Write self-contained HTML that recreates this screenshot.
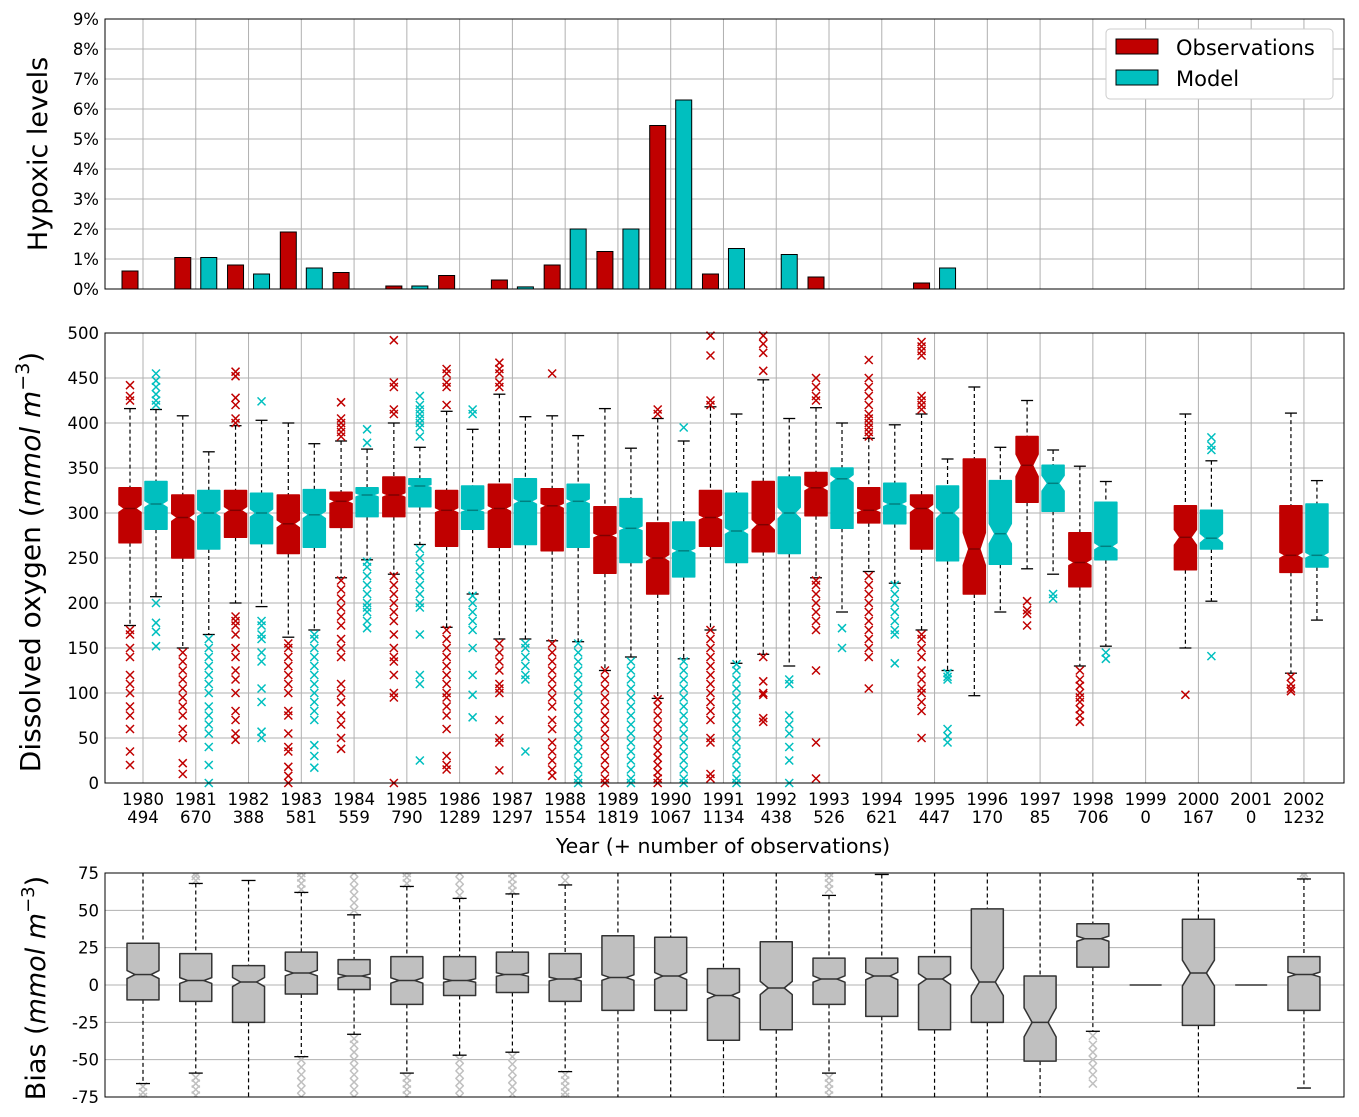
<!DOCTYPE html>
<html><head><meta charset="utf-8"><style>
body{margin:0;background:#fff}
svg{display:block;font-family:"DejaVu Sans","Liberation Sans",sans-serif}
</style></head><body>
<svg id="c" width="1359" height="1117" xmlns="http://www.w3.org/2000/svg"></svg>
<script>
const years=["1980","1981","1982","1983","1984","1985","1986","1987","1988","1989","1990","1991","1992","1993","1994","1995","1996","1997","1998","1999","2000","2001","2002"];
const counts=[494,670,388,581,559,790,1289,1297,1554,1819,1067,1134,438,526,621,447,170,85,706,0,167,0,1232];
const hypObs=[0.6,1.05,0.8,1.9,0.55,0.1,0.45,0.3,0.8,1.25,5.45,0.5,0,0.4,0,0.2,0,0,0,0,0,0,0];
const hypMod=[0,1.05,0.5,0.7,0,0.1,0,0.07,2.0,2.0,6.3,1.35,1.15,0,0,0.7,0,0,0,0,0,0,0];
// [whislo,q1,med,q3,whishi]
const obsBox=[[175,267,305,328,416],[150,250,295,320,408],[200,273,303,325,397],[162,255,288,320,400],[228,284,313,323,380],[232,296,320,340,400],[173,263,303,325,413],[160,262,305,332,432],[158,258,308,327,408],[125,233,275,307,416],[94,210,250,289,405],[170,263,295,325,418],[143,257,287,335,448],[228,297,328,345,417],[235,289,303,328,383],[170,260,305,320,410],[97,210,260,360,440],[238,312,353,385,425],[130,218,245,278,352],null,[150,237,273,308,410],null,[122,234,253,308,411]];
const modBox=[[207,282,310,335,415],[165,260,300,325,368],[196,266,300,322,403],[170,262,298,326,377],[248,296,320,328,371],[265,307,330,338,373],[210,282,303,330,393],[160,265,313,338,407],[157,262,313,332,386],[140,245,283,316,372],[138,229,258,290,380],[133,245,280,322,410],[130,255,300,340,405],[190,283,338,350,400],[222,288,310,333,398],[125,247,300,330,360],[190,243,277,336,373],[232,302,333,353,370],[152,248,263,312,335],null,[202,260,272,303,358],null,[181,240,253,310,336]];
const obsOut=[[20,35,60,75,85,100,110,120,140,150,165,170,425,430,442],[10,22,50,60,75,85,95,105,115,125,135,145],[48,55,70,80,100,115,125,140,150,165,175,180,185,400,405,420,428,452,457],[0,8,18,35,40,55,75,80,100,110,120,130,140,150,155],[38,50,65,75,90,100,110,140,150,160,175,185,195,205,215,225,385,390,395,400,405,423],[0,95,100,120,135,140,150,165,180,190,200,210,220,230,410,415,440,445,492],[15,20,30,60,75,85,95,100,110,120,130,140,150,160,170,420,440,445,455,460],[14,45,50,70,100,105,110,125,135,145,155,440,445,455,460,467],[8,15,25,35,45,60,70,85,95,105,115,125,135,145,155,455],[0,5,15,25,35,45,55,65,75,85,95,105,115,125],[0,5,12,20,28,36,45,55,65,75,85,93,410,415],[5,10,45,50,70,80,90,100,110,120,130,140,150,160,170,420,425,475,497],[68,72,98,100,113,140,458,478,488,497],[5,45,125,170,180,190,200,210,220,225,425,430,440,450],[105,140,150,160,170,180,190,200,210,220,230,385,390,395,400,405,410,420,430,440,450,470],[50,80,90,100,105,115,125,140,150,160,165,415,420,425,430,475,480,485,490],[],[175,188,192,202],[68,75,82,90,95,100,108,115,125],[],[98],[],[102,105,110,118]];
const modOut=[[152,168,178,200,420,425,432,440,447,455],[0,20,40,55,65,75,85,100,110,120,130,140,150,160],[50,57,90,105,135,145,160,165,175,180,424],[17,30,42,70,80,90,100,110,120,130,140,150,160,165],[172,180,190,195,200,210,220,230,240,246,378,393],[25,110,120,165,195,200,210,220,230,240,250,260,385,395,400,405,410,415,420,430],[73,98,120,150,170,180,190,200,208,410,415],[35,115,120,130,140,150,155],[0,5,15,25,35,45,55,65,75,85,95,105,115,125,135,145,155],[0,5,15,25,35,45,55,65,75,85,95,105,115,125,135],[0,5,15,25,35,45,55,65,75,85,95,105,115,125,135,395],[0,5,15,25,35,45,55,65,75,85,95,105,115,125,132],[0,25,40,55,65,75,110,115],[150,172],[133,165,170,180,190,200,210,220],[45,52,60,115,118,122],[],[205,210],[138,145],[],[141,370,375,384],[],[]];
// bias [whislo,q1,med,q3,whishi]
const biasBox=[[-66,-10,7,28,80],[-59,-11,3,21,68],[-80,-25,2,13,70],[-48,-6,8,22,62],[-33,-3,6,17,47],[-59,-13,3,19,66],[-47,-7,3,19,58],[-45,-5,7,22,61],[-58,-11,4,21,67],[-80,-17,5,33,80],[-80,-17,6,32,80],[-80,-37,-7,11,80],[-80,-30,-2,29,80],[-59,-13,4,18,60],[-80,-21,6,18,74],[-80,-30,4,19,80],[-80,-25,2,51,80],[-80,-51,-25,6,80],[-31,12,31,41,80],[0,0,0,0,0],[-80,-27,8,44,80],[0,0,0,0,0],[-69,-17,7,19,71]];
const biasOut=[[-68,-72,-75],[70,73,75,-62,-66,-70,-74],[],[64,68,72,75,-50,-55,-60,-65,-70,-75],[50,55,60,65,70,75,-36,-40,-45,-50,-55,-60,-65,-70,-75],[68,72,75,-62,-66,-70,-74],[60,65,70,75,-50,-55,-60,-65,-70,-75],[63,67,71,75,-48,-53,-58,-63,-68,-73],[70,75,-60,-64,-68,-72,-75],[],[],[],[],[64,68,72,75,-62,-66,-70,-74],[],[],[],[],[-34,-40,-45,-50,-55,-60,-66],[],[],[],[73,75]];

const S=document.getElementById('c');const NS='http://www.w3.org/2000/svg';
function el(t,a,p){const e=document.createElementNS(NS,t);for(const k in a)e.setAttribute(k,a[k]);(p||S).appendChild(e);return e;}
const X0=105,X1=1344;
const xc=i=>143+i*52.77;
const RED='#c00000',CY='#00bfbf';
const TF=16.5;
// ---- top panel ----
const yT=v=>289-v*30;
const gT=el('g',{});
for(let v=0;v<=9;v++){el('line',{x1:X0,x2:X1,y1:yT(v),y2:yT(v),stroke:'#b0b0b0','stroke-width':1},gT);
 const t=el('text',{x:99,y:yT(v)+6,'text-anchor':'end','font-size':TF},gT);t.textContent=v+'%';}
years.forEach((y,i)=>el('line',{x1:xc(i),x2:xc(i),y1:19,y2:289,stroke:'#b0b0b0'},gT));
hypObs.forEach((v,i)=>{if(v<=0)return;const r=el('rect',{x:xc(i)-21,y:yT(v),width:16,height:v*30,fill:RED,stroke:'#000'},gT);});
hypMod.forEach((v,i)=>{if(v<=0)return;const r=el('rect',{x:xc(i)+5,y:yT(v),width:16,height:v*30,fill:CY,stroke:'#000'},gT);});
el('line',{x1:X0,x2:X1,y1:289,y2:289,stroke:'#000','stroke-width':1},gT);
el('rect',{x:X0,y:19,width:X1-X0,height:270,fill:'none',stroke:'#000'},gT);
let t=el('text',{x:0,y:0,'font-size':27,transform:'translate(47,154) rotate(-90)','text-anchor':'middle'});t.textContent='Hypoxic levels';
const lg=el('g',{});
el('rect',{x:1106,y:29,width:227,height:70,rx:4,fill:'#fff',stroke:'#ccc'},lg);
el('rect',{x:1116,y:39,width:42,height:15,fill:RED,stroke:'#000'},lg);
el('rect',{x:1116,y:70,width:42,height:15,fill:CY,stroke:'#000'},lg);
t=el('text',{x:1176,y:55,'font-size':21},lg);t.textContent='Observations';
t=el('text',{x:1176,y:86,'font-size':21},lg);t.textContent='Model';

// ---- box helper ----
function box(g,cx,w,b,n,yf,fill,stroke,medc,cap){
 const [lo,q1,md,q3,hi]=b;
 const nh=n>0?1.57*(q3-q1)/Math.sqrt(n):0;
 const nl=md-nh,nu=md+nh;
 el('line',{x1:cx,x2:cx,y1:yf(hi),y2:yf(q3),stroke:'#000','stroke-dasharray':'4,3','stroke-width':1.2},g);
 el('line',{x1:cx,x2:cx,y1:yf(q1),y2:yf(lo),stroke:'#000','stroke-dasharray':'4,3','stroke-width':1.2},g);
 el('line',{x1:cx-cap,x2:cx+cap,y1:yf(hi),y2:yf(hi),stroke:'#000','stroke-width':1.3},g);
 el('line',{x1:cx-cap,x2:cx+cap,y1:yf(lo),y2:yf(lo),stroke:'#000','stroke-width':1.3},g);
 const h=w/2,q=w/4;
 const p=[[cx-h,yf(q1)],[cx+h,yf(q1)],[cx+h,yf(nl)],[cx+q,yf(md)],[cx+h,yf(nu)],[cx+h,yf(q3)],[cx-h,yf(q3)],[cx-h,yf(nu)],[cx-q,yf(md)],[cx-h,yf(nl)]];
 el('polygon',{points:p.map(a=>a.join(',')).join(' '),fill:fill,stroke:stroke,'stroke-width':1.5,'stroke-linejoin':'round'},g);
 el('line',{x1:cx-q,x2:cx+q,y1:yf(md),y2:yf(md),stroke:medc,'stroke-width':1.5},g);
}
function xm(g,cx,cy,c){el('path',{d:`M${cx-4},${cy-4}L${cx+4},${cy+4}M${cx-4},${cy+4}L${cx+4},${cy-4}`,stroke:c,'stroke-width':1.5},g);}

// ---- middle panel ----
const yM=v=>783-v*0.9;
const gM=el('g',{});
for(let v=0;v<=500;v+=50){el('line',{x1:X0,x2:X1,y1:yM(v),y2:yM(v),stroke:'#b0b0b0'},gM);
 t=el('text',{x:99,y:yM(v)+6,'text-anchor':'end','font-size':TF},gM);t.textContent=v;}
years.forEach((y,i)=>{el('line',{x1:xc(i),x2:xc(i),y1:333,y2:783,stroke:'#b0b0b0'},gM);
 let a=el('text',{x:xc(i),y:805,'text-anchor':'middle','font-size':TF},gM);a.textContent=y;
 a=el('text',{x:xc(i),y:823,'text-anchor':'middle','font-size':TF},gM);a.textContent=counts[i];});
years.forEach((y,i)=>{
 const g=el('g',{},gM);
 if(obsBox[i])box(g,xc(i)-13,22,obsBox[i],counts[i],yM,RED,RED,'#800000',6);
 if(modBox[i])box(g,xc(i)+13,22,modBox[i],counts[i],yM,CY,CY,'#008080',6);
 obsOut[i].forEach(v=>xm(g,xc(i)-13,yM(v),RED));
 modOut[i].forEach(v=>xm(g,xc(i)+13,yM(v),CY));
});
el('rect',{x:X0,y:333,width:X1-X0,height:450,fill:'none',stroke:'#000'},gM);
t=el('text',{x:723,y:853,'text-anchor':'middle','font-size':20.5});t.textContent='Year (+ number of observations)';
t=el('text',{x:0,y:0,'font-size':28,transform:'translate(40,562) rotate(-90)','text-anchor':'middle'});t.innerHTML='Dissolved oxygen (<tspan font-style="italic">mmol m</tspan><tspan font-size="19" dy="-11">−3</tspan><tspan dy="11">)</tspan>';

// ---- bias panel ----
const yB=v=>985-v*1.4933;
const gB=el('g',{});
const clip=el('clipPath',{id:'cb'});el('rect',{x:X0,y:873,width:X1-X0,height:224},clip);
for(let v=-75;v<=75;v+=25){el('line',{x1:X0,x2:X1,y1:yB(v),y2:yB(v),stroke:'#b0b0b0'},gB);
 t=el('text',{x:99,y:yB(v)+6,'text-anchor':'end','font-size':TF},gB);t.textContent=v;}
const gBc=el('g',{'clip-path':'url(#cb)'},gB);
years.forEach((y,i)=>{
 const g=el('g',{},gBc);
 biasOut[i].forEach(v=>xm(g,xc(i),yB(v),'#c0c0c0'));
 if(counts[i]===0){el('line',{x1:xc(i)-16,x2:xc(i)+16,y1:yB(0),y2:yB(0),stroke:'#333','stroke-width':1.5},g);return;}
 box(g,xc(i),32,biasBox[i],counts[i],yB,'#c0c0c0','#333','#333',7);
});
el('rect',{x:X0,y:873,width:X1-X0,height:224,fill:'none',stroke:'#000'},gB);
t=el('text',{x:0,y:0,'font-size':27,transform:'translate(45,988) rotate(-90)','text-anchor':'middle'});t.innerHTML='Bias (<tspan font-style="italic">mmol m</tspan><tspan font-size="18" dy="-11">−3</tspan><tspan dy="11">)</tspan>';
</script>
</body></html>
